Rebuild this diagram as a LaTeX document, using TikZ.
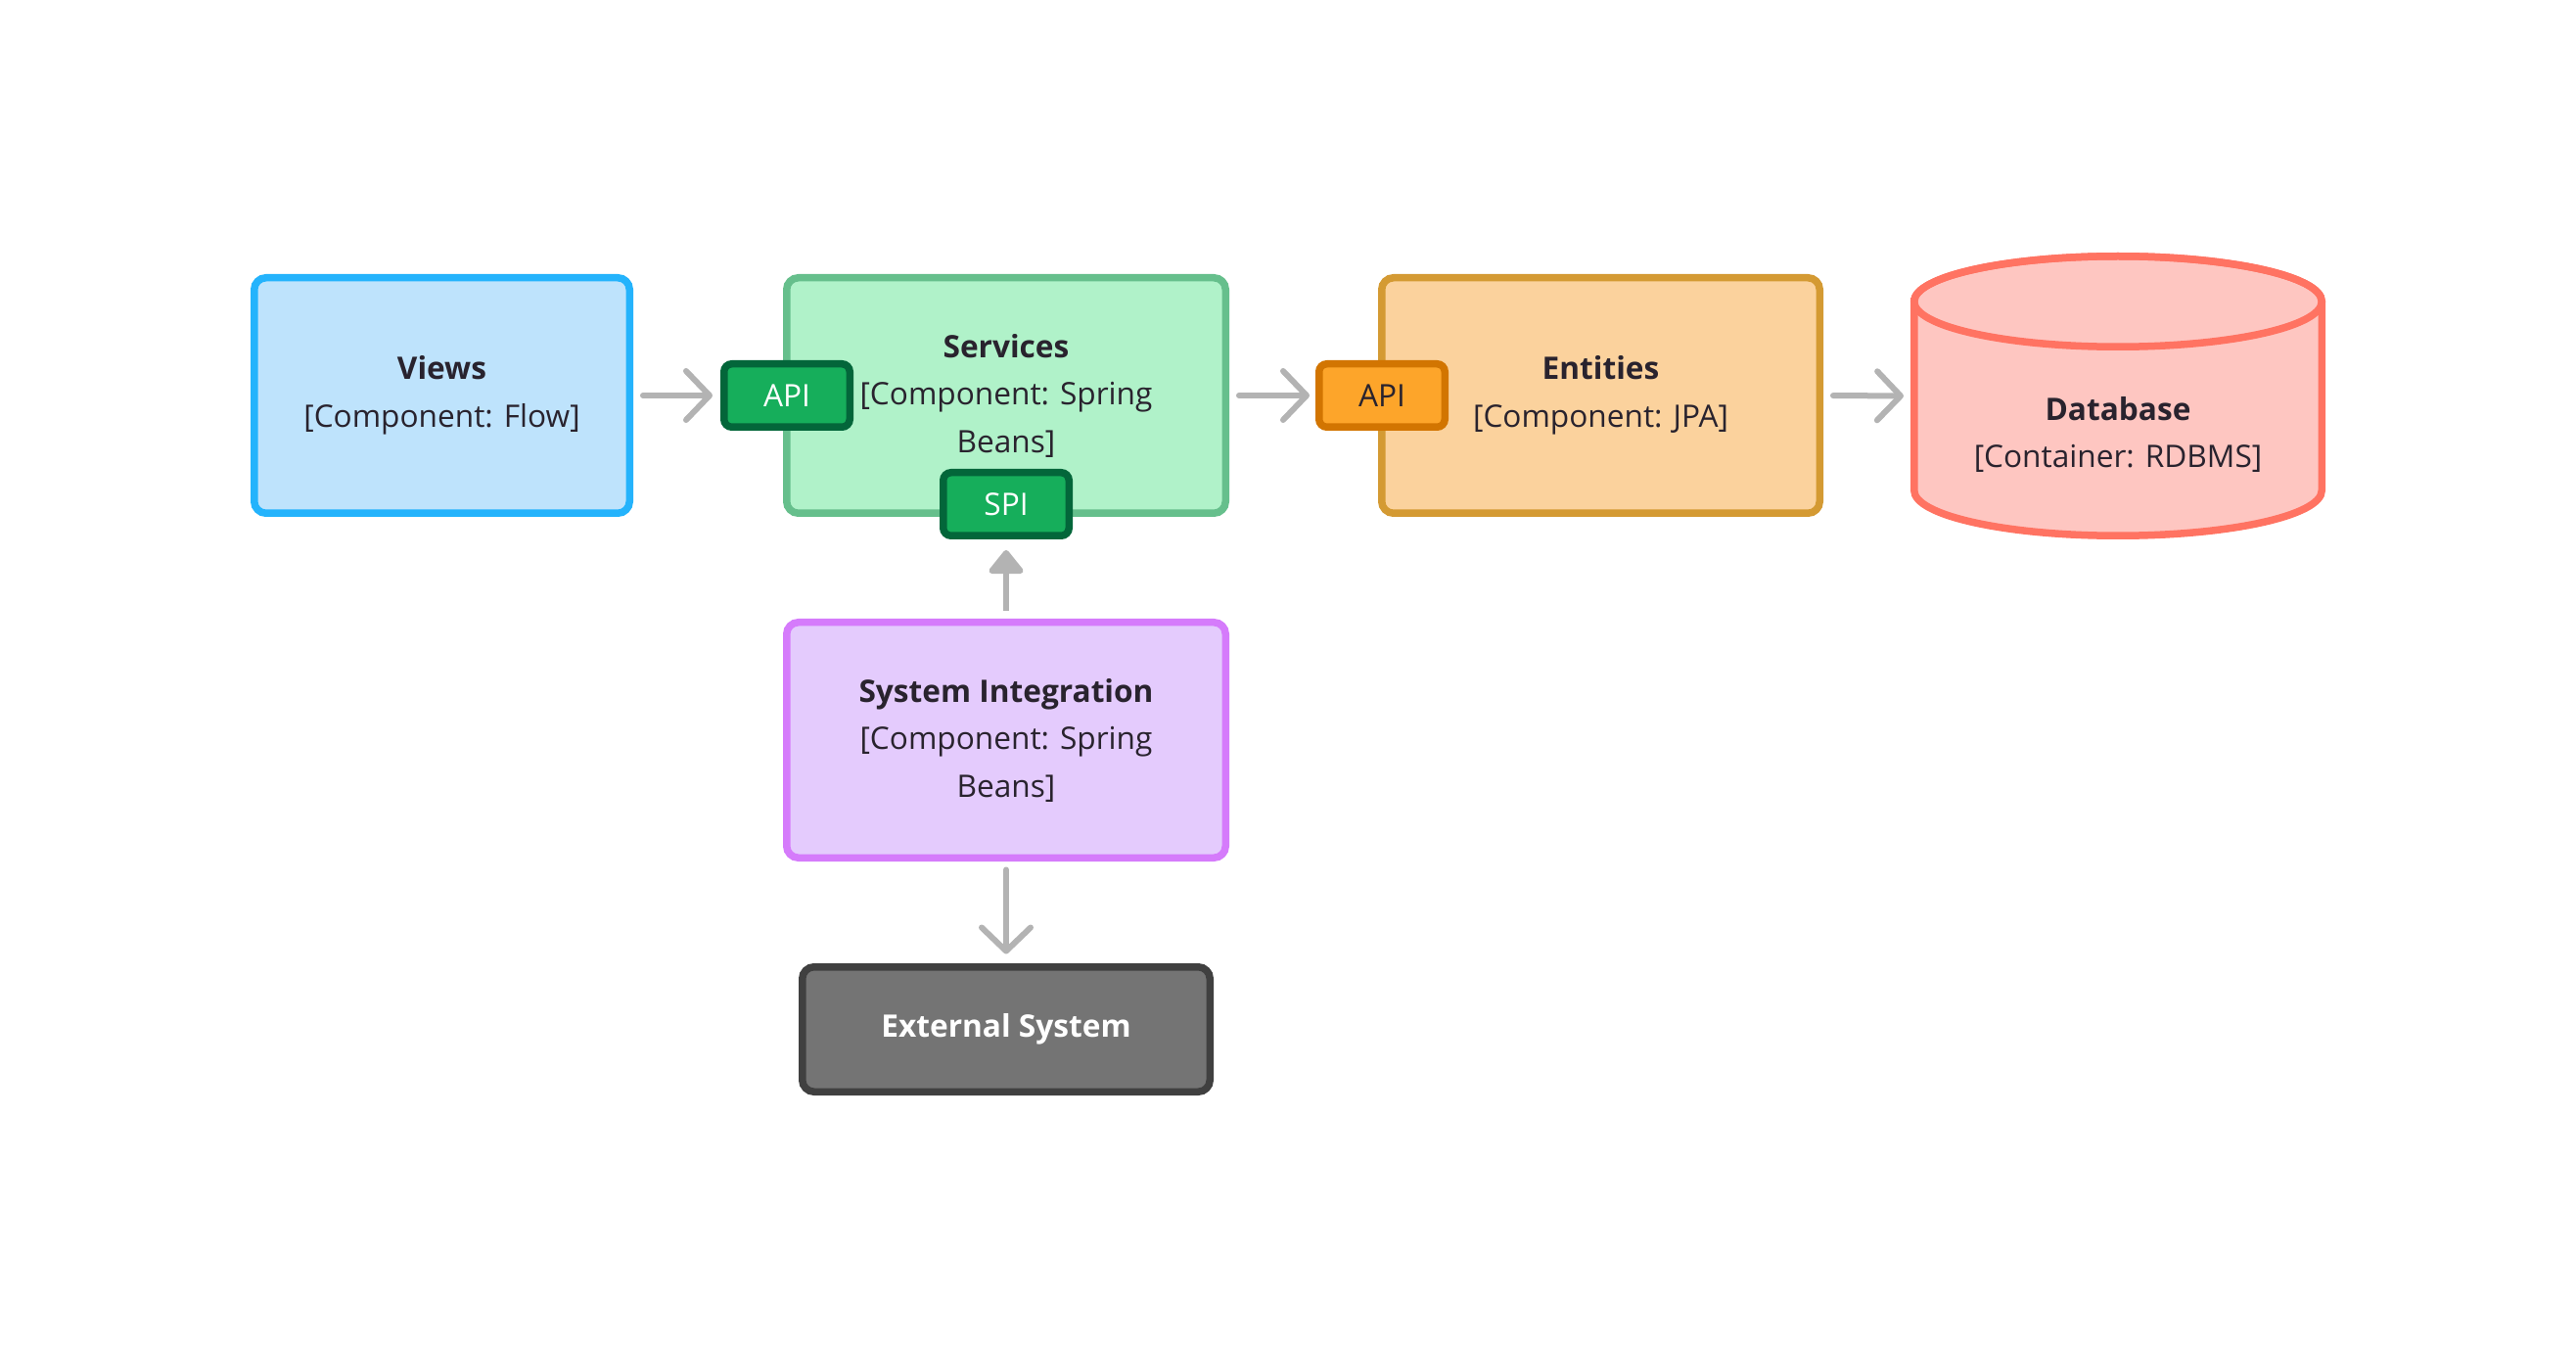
\documentclass[tikz,border=0pt]{standalone}
\usepackage{fontspec}
\setmainfont{Open Sans}
\usepackage{tikz}
\usetikzlibrary{arrows.meta,positioning,calc}
\usepackage{xcolor}
\definecolor{ink}{HTML}{29232E}
\definecolor{linkgray}{HTML}{B3B3B3}
\definecolor{viewfill}{HTML}{BEE3FC} \definecolor{viewline}{HTML}{24B3FC}
\definecolor{svcfill}{HTML}{B0F2C9}  \definecolor{svcline}{HTML}{66BF8C}
\definecolor{apigfill}{HTML}{16AE5B} \definecolor{apigline}{HTML}{03663A}
\definecolor{entfill}{HTML}{FBD29D}  \definecolor{entline}{HTML}{D49A33}
\definecolor{apiofill}{HTML}{FDA52A} \definecolor{apioline}{HTML}{D27501}
\definecolor{dbfill}{HTML}{FEC6C1}   \definecolor{dbline}{HTML}{FF7362}
\definecolor{intfill}{HTML}{E4CBFD}  \definecolor{intline}{HTML}{D57BFB}
\definecolor{extfill}{HTML}{747474}  \definecolor{extline}{HTML}{404040}
\tikzset{
  comp/.style={rectangle,rounded corners=0.12cm,line width=0.075cm,align=center,
    text=ink,inner sep=0pt,font=\fontsize{9}{13.8}\selectfont},
  port/.style={rectangle,rounded corners=0.08cm,line width=0.075cm,minimum width=1.285cm,
    minimum height=0.645cm,inner sep=0pt,font=\fontsize{9}{11}\selectfont},
  link/.style={line width=0.06cm,draw=linkgray,line cap=round,
    -{Straight Barb[length=2.4mm,width=5mm,line cap=round,line join=round]}}
}
\tikzstyle{push} = [line width=0.06cm,draw=linkgray,-{Triangle[length=2.6mm,width=4mm,round]}]

\begin{document}
\begin{tikzpicture}
  \useasboundingbox[fill=white] (0,0) rectangle (26.32,13.76);

  % components
  \node[comp,fill=viewfill,draw=viewline,minimum width=3.835cm,minimum height=2.405cm]
    (views) at (4.515,9.72) {\textbf{Views}\\{}[Component: Flow]};
  \node[comp,fill=svcfill,draw=svcline,minimum width=4.485cm,minimum height=2.405cm]
    (services) at (10.28,9.72) {\textbf{Services}\\{}[Component: Spring\\Beans]};
  \node[comp,fill=entfill,draw=entline,minimum width=4.475cm,minimum height=2.405cm]
    (entities) at (16.355,9.72) {\textbf{Entities}\\{}[Component: JPA]};
  \node[comp,fill=intfill,draw=intline,minimum width=4.485cm,minimum height=2.405cm]
    (sysint) at (10.28,6.20) {\textbf{System Integration}\\{}[Component: Spring\\Beans]};
  \node[comp,fill=extfill,draw=extline,text=white,minimum width=4.165cm,minimum height=1.275cm]
    (ext) at (10.28,3.245) {\textbf{External System}};

  % ports
  \node[port,fill=apigfill,draw=apigline,text=white] (api1) at (8.04,9.72) {API};
  \node[port,fill=apigfill,draw=apigline,text=white] (spi) at (10.28,8.61) {SPI};
  \node[port,fill=apiofill,draw=apioline,text=ink] (api2) at (14.12,9.72) {API};

  % database cylinder
  \node[inner sep=0pt,outer sep=0pt,minimum width=4.24cm,minimum height=2.93cm] (db) at (21.64,9.715) {};
  \filldraw[fill=dbfill,draw=dbline,line width=0.075cm]
    (19.5575,10.68) -- (19.5575,8.75)
    arc[start angle=180,end angle=360,x radius=2.0825,y radius=0.4625]
    -- (23.7225,10.68)
    arc[start angle=0,end angle=180,x radius=2.0825,y radius=0.4625] -- cycle;
  \draw[dbline,line width=0.075cm] (21.64,10.68) ellipse[x radius=2.0825,y radius=0.4625];
  \node[comp,text=ink] (dbtext) at (21.64,9.32) {\textbf{Database}\\{}[Container: RDBMS]};

  % connectors
  \draw[link,shorten <=0.1cm,shorten >=0.08cm] (views.east) -- (api1.west);
  \draw[link,shorten <=0.1cm,shorten >=0.06cm] (services.east) -- (api2.west);
  \draw[link,shorten <=0.1cm,shorten >=0.07cm] (entities.east) -- (db.west);
  \draw[push,shorten <=0.08cm,shorten >=0.11cm] (sysint.north) -- (spi.south);
  \draw[link,shorten <=0.085cm,shorten >=0.095cm] (sysint.south) -- (ext.north);
\end{tikzpicture}
\end{document}
